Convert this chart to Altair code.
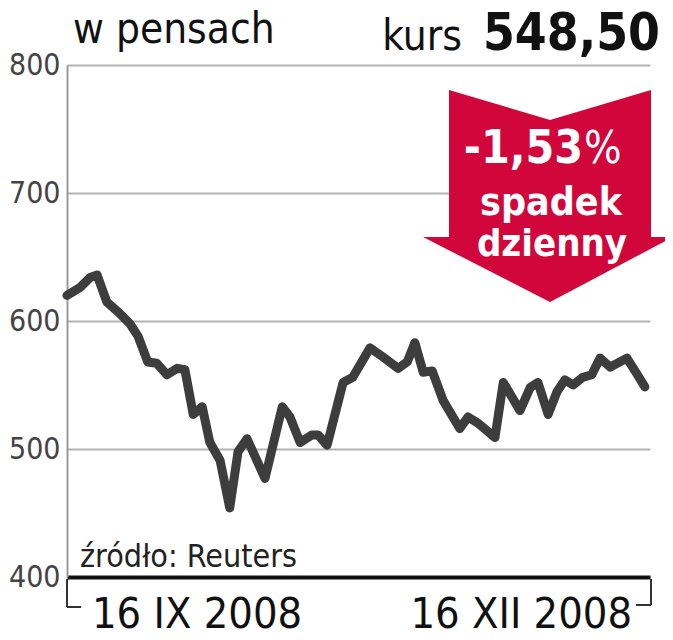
import altair as alt
import pandas as pd

# days since 16 IX 2008 and closing price in pence
days = [0, 2.0, 3.6, 4.7, 6.2, 8.0, 9.8, 11.1, 12.6, 14.0, 15.6, 17.2, 18.4, 19.7,
        21.1, 22.3, 23.9, 25.4, 26.7, 28.1, 30.9, 33.6, 34.8, 36.4, 38.2, 39.2, 40.6,
        43.1, 44.6, 47.3, 49.3, 51.7, 53.1, 54.3, 55.6, 57.0, 58.7, 61.3, 62.6, 64.2,
        66.8, 68.1, 70.7, 72.3, 73.5, 75.1, 76.5, 77.7, 79.0, 80.5, 81.9, 83.2, 84.8,
        87.4, 88.9, 90.2]
price = [620, 626, 634, 636, 615, 607, 598, 588, 568, 567, 558, 563, 562, 527,
         533, 505, 491, 454, 498, 508, 477, 533, 525, 505, 511, 511, 503,
         552, 556, 579, 572, 563, 568, 583, 560, 561, 538, 516, 525, 520,
         509, 552, 530, 548, 552, 527, 545, 554, 550, 556, 558, 571, 564,
         571, 559, 548.5]
y_ticks = [400, 500, 600, 700, 800]

FONT = "'DejaVu Sans Condensed', Roboto, sans-serif"
W, H = 583, 512

df = pd.DataFrame({"d": days, "p": price})

x = alt.X("d:Q", scale=alt.Scale(domain=[0, 91], nice=False),
          axis=alt.Axis(title=None, labels=False, ticks=False, grid=False,
                        domainColor="#111", domainWidth=4))
y = alt.Y("p:Q", scale=alt.Scale(domain=[400, 800], nice=False),
          axis=alt.Axis(title=None, values=y_ticks, ticks=False, labelFont=FONT,
                        labelFontSize=30, labelColor="#444", labelPadding=7,
                        gridColor="#b3b3b3", gridWidth=2,
                        domainColor="#9a9a9a", domainWidth=2))

line = alt.Chart(df).mark_line(color="#3d3d3d", strokeWidth=9,
                               strokeJoin="round", strokeCap="round").encode(x=x, y=y)

arrow_path = ("M -0.792 -0.848 L 0.016 -0.608 L 0.824 -0.848 L 0.824 0.328 "
              "L 1 0.328 L 0.016 0.848 L -1 0.328 L -0.792 0.328 Z")
arrow = alt.Chart(df).transform_filter("datum.d == 0").mark_point(
    shape=arrow_path, filled=True, size=62500, color="#d1063b", opacity=1,
    strokeWidth=0
).encode(x=alt.value(481), y=alt.value(131))

def txt(t, px, py, size, align="left", weight="normal", color="#111"):
    return alt.Chart(df).transform_filter("datum.d == 0").mark_text(
        text=t, font=FONT, fontSize=size, fontWeight=weight, align=align,
        baseline="alphabetic", color=color
    ).encode(x=alt.value(px), y=alt.value(py))

texts = [
    txt("w pensach", 6, -22, 42),
    txt("kurs", 395, -15, 42, align="right"),
    txt("548,50", 593, -15, 51, align="right", weight="bold"),
    txt("-1,53", 516, 98, 46, align="right", weight="bold", color="white"),
    txt("%", 517, 98, 44, align="left", color="white"),
    txt("spadek", 484, 150, 39, align="center", weight="bold", color="white"),
    txt("dzienny", 485, 191, 38, align="center", weight="bold", color="white"),
    txt("źródło: Reuters", 13, 502, 32, color="#222"),
    txt("16 IX 2008", 25, 563, 43),
    txt("16 XII 2008", 565, 563, 43, align="right"),
]

def rule(x1, x2, y1, y2):
    return alt.Chart(df).transform_filter("datum.d == 0").mark_rule(
        color="#333", strokeWidth=2
    ).encode(x=alt.value(x1), x2=alt.value(x2), y=alt.value(y1), y2=alt.value(y2))

brackets = [
    rule(0, 0, 514, 542), rule(0, 14, 542, 542),
    rule(584, 584, 514, 540), rule(569, 584, 540, 540),
]

chart = alt.layer(line, arrow, *texts, *brackets).properties(
    width=W, height=H,
    autosize=alt.AutoSizeParams(type="none"),
    padding={"left": 59, "top": 57, "right": 15, "bottom": 62},
).configure_view(stroke=None)

chart.save("out.html", embed_options={"renderer": "svg", "actions": False})
